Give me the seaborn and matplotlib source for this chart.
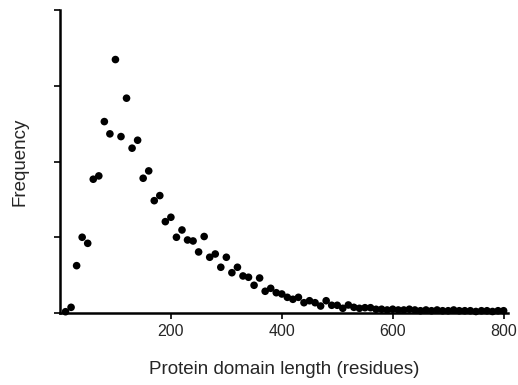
import numpy as np
import pandas as pd
import matplotlib
matplotlib.use("Agg")
import matplotlib.pyplot as plt
import seaborn as sns

# domain length bins (residues) and frequency (arbitrary units)
lengths = list(range(10, 810, 10))
freq = [1.7, 7.5, 62.5, 100, 92, 176.6, 181, 252.7, 236.5, 334.6,
        232.9, 283.6, 217.6, 228.1, 177.9, 187.6, 148.3, 155, 120.6, 126.4,
        100, 109.6, 96.4, 95.1, 80.6, 101, 73.6, 77.9, 60.4, 73.6,
        53.2, 60.4, 48.9, 47.2, 36.6, 46.2, 28.7, 32.6, 26.8, 25.1,
        20.7, 18.1, 20.7, 13.6, 16.2, 13.6, 9.2, 16.2, 10.2, 10.2,
        6.2, 10.6, 7.5, 6.2, 7, 7, 4.9, 5, 4, 5,
        4, 4, 5, 4, 3, 4, 3, 4, 3, 3,
        4, 3, 3, 3, 2, 3, 3, 2, 3, 3]
xticks = [200, 400, 600, 800]
yticks = [0, 100, 200, 300, 400]

df = pd.DataFrame({'length': lengths, 'freq': freq})

sns.set_style("ticks")
plt.rcParams['font.family'] = ['Liberation Sans', 'DejaVu Sans']

fig = plt.figure(figsize=(5.18, 3.85), dpi=100)
ax = fig.add_axes([0.1158, 0.187, 0.865, 0.787])
sns.scatterplot(data=df, x='length', y='freq', ax=ax, color='black',
                s=30, edgecolor='none', clip_on=False)

ax.set_xlim(0, 808)
ax.set_ylim(0, 400)
ax.set_xticks(xticks)
ax.set_yticks(yticks)
ax.set_yticklabels([])
ax.tick_params(axis='both', length=4, width=1.2, color='black', labelsize=11.5, pad=4)
for s in ['left', 'bottom']:
    ax.spines[s].set_linewidth(1.8)
    ax.spines[s].set_color('black')
sns.despine(ax=ax)

ax.set_xlabel('Protein domain length (residues)', fontsize=13.5, labelpad=16)
ax.set_ylabel('Frequency', fontsize=13.5, labelpad=15)

fig.savefig('out.png', dpi=100)
